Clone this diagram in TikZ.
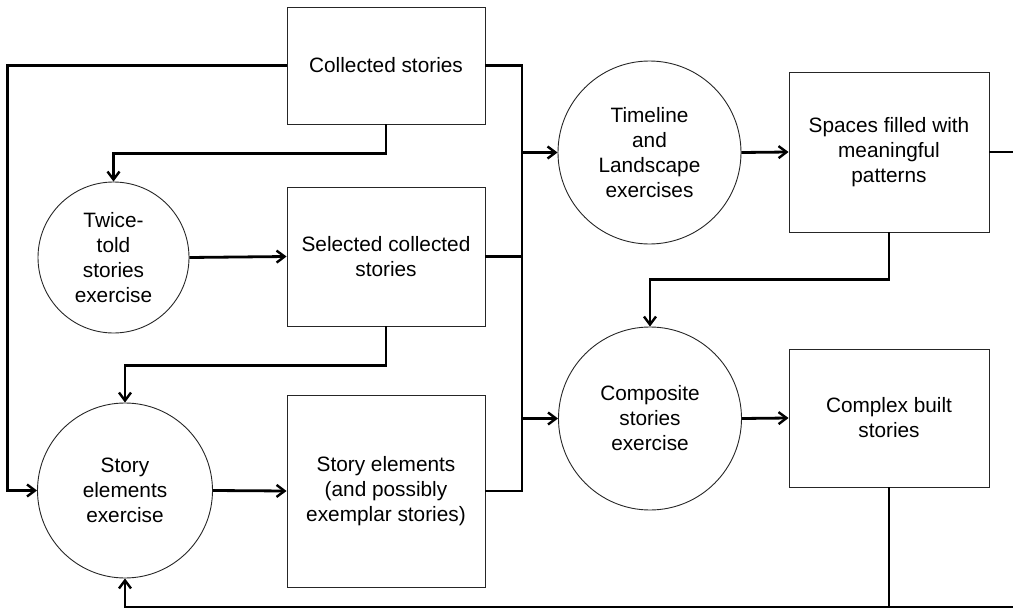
\documentclass[tikz,border=0pt]{standalone}
\usepackage{fontspec}
\setmainfont{Liberation Sans}
\usetikzlibrary{arrows.meta}
\tikzset{
  every node/.style={font=\fontsize{20.8}{25}\selectfont, align=center},
  boxnode/.style={draw=black!85, line width=0.9pt, rectangle, inner sep=0pt},
  circnode/.style={draw=black!85, line width=0.9pt, circle, inner sep=0pt},
  conn/.style={line width=2.8pt, line join=miter},
  arr/.style={conn, -{Straight Barb[length=8pt,width=12pt,line width=2.4pt]}},
}
\begin{document}
\begin{tikzpicture}[x=1pt,y=-1pt]
\useasboundingbox (0,0) rectangle (1013,610);
% boxes
\node[boxnode, minimum width=198pt, minimum height=117pt] (coll) at (386,65.5) {Collected stories};
\node[boxnode, minimum width=198pt, minimum height=139pt] (sel) at (386,256.5) {Selected collected\\stories};
\node[boxnode, minimum width=198pt, minimum height=192pt] (elem) at (386,491) {Story elements\\(and possibly\\exemplar stories)};
\node[boxnode, minimum width=200pt, minimum height=160pt] (spaces) at (889,152) {Spaces filled with\\meaningful\\patterns};
\node[boxnode, minimum width=200pt, minimum height=138pt] (complex) at (889,418) {Complex built\\stories};
% circles
\node[circnode, minimum size=151pt] (twice) at (113.5,257.5) {Twice-\\told\\stories\\exercise};
\node[circnode, minimum size=175pt] (selem) at (125,490.5) {Story\\elements\\exercise};
\node[circnode, minimum size=183pt] (time) at (649.5,152.5) {Timeline\\and\\Landscape\\exercises};
\node[circnode, minimum size=183pt] (comp) at (650,418.5) {Composite\\stories\\exercise};
% helper coordinates
\coordinate (busTop) at (522,65.5);
\coordinate (busBot) at (522,491);
\coordinate (rightTop) at (1014,152);
\coordinate (rightBot) at (1014,607);
% connectors
\draw[arr] (coll.west) -- ++(-279,0) |- (selem.west);
\draw[arr] (coll.south) -- ++(0,29) -| (twice.north);
\draw[arr] (twice.east) -- (sel.west);
\draw[arr] (sel.south) -- ++(0,39) -| (selem.north);
\draw[arr] (selem.east) -- (elem.west);
\draw[conn] (coll.east) -- (busTop) -- (busBot) -- (elem.east);
\draw[conn] (sel.east) -- (sel.east -| busTop);
\draw[arr] (time.west -| busTop) -- (time.west);
\draw[arr] (comp.west -| busTop) -- (comp.west);
\draw[arr] (time.east) -- (spaces.west);
\draw[conn] (spaces.east) -- (rightTop);
\draw[arr] (spaces.south) -- ++(0,47) -| (comp.north);
\draw[arr] (comp.east) -- (complex.west);
\draw[conn] (complex.south) -- (complex.south |- rightBot);
\draw[arr] (rightBot) -| (selem.south);
\end{tikzpicture}
\end{document}
